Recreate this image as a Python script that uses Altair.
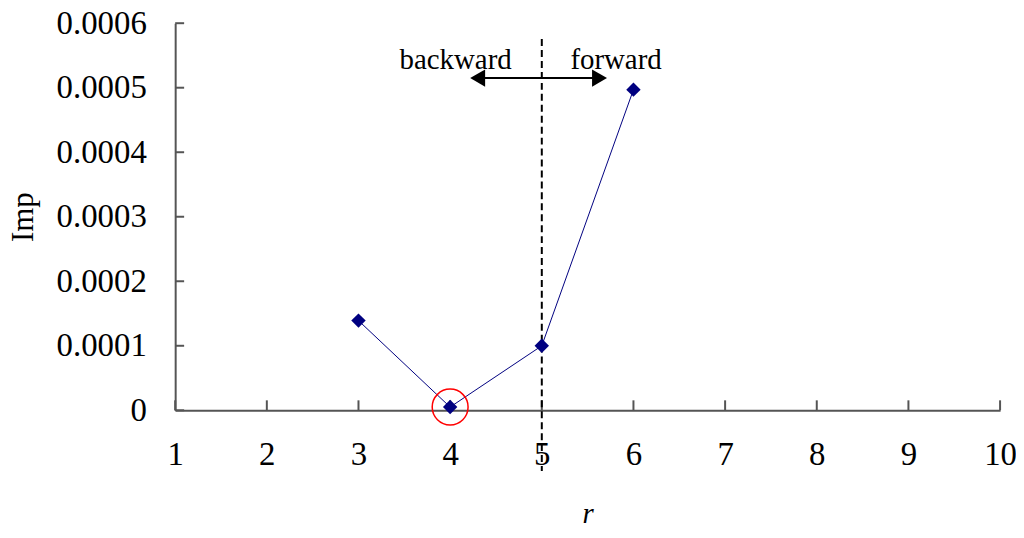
import altair as alt
import pandas as pd

# data
r_vals = [3, 4, 5, 6]
imp_vals = [0.000139, 0.000005, 0.0001, 0.000497]
x_ticks = [1, 2, 3, 4, 5, 6, 7, 8, 9, 10]
y_ticks = [0, 0.0001, 0.0002, 0.0003, 0.0004, 0.0005, 0.0006]
split_r = [5]
circle_r = [4]
circle_imp = [0.000005]
arrow_x = [4.3, 5.63]
arrow_y = [0.000515]
ann_text = ["backward", "forward"]
ann_x = [4.06, 5.81]
ann_y = [0.000529, 0.000529]

W, H = 829, 389
FONT = "Liberation Serif"
TFS = 33
AFS = 29

xs = alt.Scale(domain=[1, 10], nice=False)
ys = alt.Scale(domain=[0, 0.0006], nice=False)

df = pd.DataFrame({"r": r_vals, "imp": imp_vals})
label_expr = "format(datum.value, '.4f') == '0.0000' ? '0' : format(datum.value, '.4f')"

base_axes = alt.Chart(df).mark_point(opacity=0).encode(
    x=alt.X("r:Q", scale=xs,
            axis=alt.Axis(values=x_ticks, title="r", ticks=False, grid=False, format="d",
                          domainColor="#555555", domainWidth=2,
                          labelFont=FONT, labelFontSize=TFS, labelColor="black",
                          labelPadding=28, labelFlush=False,
                          titleFont=FONT, titleFontSize=AFS, titleFontStyle="italic",
                          titleFontWeight="normal", titleColor="black", titlePadding=29)),
    y=alt.Y("imp:Q", scale=ys,
            axis=alt.Axis(values=y_ticks, title="Imp", ticks=False, grid=False,
                          domainColor="#555555", domainWidth=2,
                          labelExpr=label_expr,
                          labelFont=FONT, labelFontSize=TFS, labelColor="black",
                          labelPadding=29, labelFlush=False,
                          titleFont=FONT, titleFontSize=31, titleFontWeight="normal",
                          titleColor="black", titlePadding=17)),
)

xt = alt.Chart(pd.DataFrame({"t": x_ticks})).mark_rule(color="#555555", strokeWidth=2).encode(
    x=alt.X("t:Q", scale=xs), y=alt.value(H), y2=alt.value(H - 10))
yt = alt.Chart(pd.DataFrame({"t": y_ticks})).mark_rule(color="#555555", strokeWidth=2).encode(
    y=alt.Y("t:Q", scale=ys), x=alt.value(0), x2=alt.value(9))

dash = alt.Chart(pd.DataFrame({"s": split_r})).mark_rule(
    color="black", strokeWidth=2, strokeDash=[7, 4]).encode(
    x=alt.X("s:Q", scale=xs), y=alt.value(16), y2=alt.value(450))

line = alt.Chart(df).mark_line(color="#000080", strokeWidth=1).encode(
    x=alt.X("r:Q", scale=xs), y=alt.Y("imp:Q", scale=ys))
pts = alt.Chart(df).mark_point(shape="diamond", filled=True, color="#000080",
                               size=210, opacity=1).encode(
    x=alt.X("r:Q", scale=xs), y=alt.Y("imp:Q", scale=ys))

circ = alt.Chart(pd.DataFrame({"r": circle_r, "imp": circle_imp})).mark_point(
    shape="circle", filled=False, color="red", size=1300, strokeWidth=1.5, opacity=1).encode(
    x=alt.X("r:Q", scale=xs), y=alt.Y("imp:Q", scale=ys))

arr_df = pd.DataFrame({"x1": [arrow_x[0]], "x2": [arrow_x[1]], "y": arrow_y})
arrow = alt.Chart(arr_df).mark_rule(color="black", strokeWidth=2).encode(
    x=alt.X("x1:Q", scale=xs), x2="x2:Q", y=alt.Y("y:Q", scale=ys))
heads_df = pd.DataFrame({"x": arrow_x, "y": arrow_y * 2,
                         "shape": ["triangle-left", "triangle-right"]})
heads = alt.Chart(heads_df).mark_point(filled=True, color="black", size=300, opacity=1).encode(
    x=alt.X("x:Q", scale=xs), y=alt.Y("y:Q", scale=ys),
    shape=alt.Shape("shape:N", scale=None, legend=None))

ann = alt.Chart(pd.DataFrame({"t": ann_text, "x": ann_x, "y": ann_y})).mark_text(
    font=FONT, fontSize=AFS, color="black", baseline="alphabetic", align="center").encode(
    x=alt.X("x:Q", scale=xs), y=alt.Y("y:Q", scale=ys), text="t:N")

chart = alt.layer(base_axes, xt, yt, dash, line, pts, circ, arrow, heads, ann).properties(
    width=W, height=H,
    autosize=alt.AutoSizeParams(type="none"),
    padding={"left": 168, "top": 14, "right": 16, "bottom": 112},
).configure(background="white").configure_view(stroke=None)

chart.save("out.html", embed_options={"renderer": "svg", "actions": False})
